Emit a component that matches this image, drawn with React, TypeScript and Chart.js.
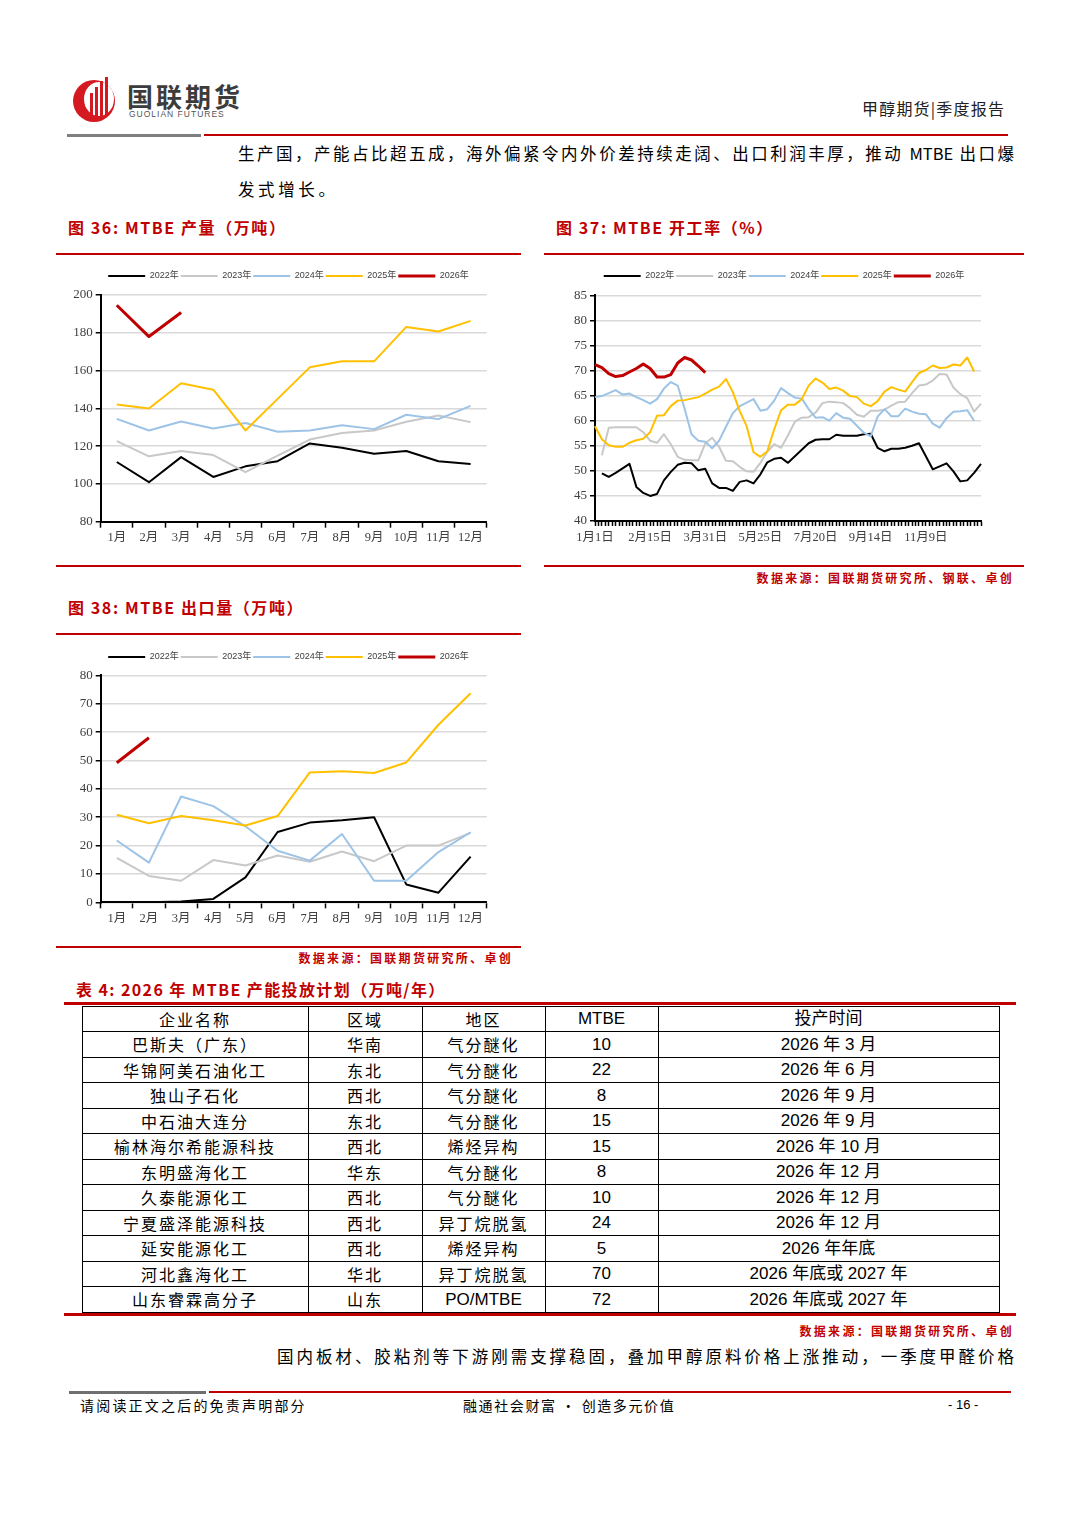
import React, { useEffect, useRef } from "react";
import { Chart, registerables } from "chart.js";

Chart.register(...registerables);

// ---------- shared series meta ----------
const seriesLabels = ["2022年", "2023年", "2024年", "2025年", "2026年"];
const seriesColors = ["#000000", "#c8c8c8", "#9dc3e6", "#ffc000", "#c00000"];
const seriesWidths = [2, 2, 2, 2, 3];

// ---------- Figure 36: MTBE production (10k t) ----------
const monthLabels = ["1月", "2月", "3月", "4月", "5月", "6月", "7月", "8月", "9月", "10月", "11月", "12月"];
const prod2022 = [111.6, 100.9, 114.2, 103.7, 109.3, 112.0, 121.4, 119.2, 116.0, 117.4, 112.0, 110.5];
const prod2023 = [122.7, 114.6, 117.4, 115.3, 106.2, 115.0, 123.5, 126.9, 128.3, 132.9, 136.2, 132.7];
const prod2024 = [134.4, 128.3, 133.0, 129.3, 132.2, 127.6, 128.3, 131.1, 129.0, 136.6, 134.3, 141.3];
const prod2025 = [142.0, 139.9, 153.3, 149.9, 128.3, 145.0, 161.7, 164.9, 164.9, 183.1, 180.7, 186.3];
const prod2026 = [194.6, 178.0, 190.7];

// ---------- Figure 37: MTBE operating rate (%) weekly ----------
const rateTickLabels = ["1月1日", "2月15日", "3月31日", "5月25日", "7月20日", "9月14日", "11月9日"];
const rate2022 = [null, 49.5, 48.8, 49.6, 50.5, 51.4, 46.8, 45.6, 45.0, 45.4, 48.1, 49.8, 51.2, 51.6, 51.5, 50.1, 50.4, 47.5, 46.6, 46.6, 46.0, 47.8, 48.1, 47.5, 49.3, 51.7, 52.4, 52.6, 51.6, 52.9, 54.2, 55.5, 56.2, 56.3, 56.3, 57.2, 57.0, 57.0, 57.0, 57.3, 57.4, 54.6, 53.9, 54.4, 54.4, 54.6, 55.0, 55.5, 52.9, 50.3, 50.9, 51.5, 49.9, 47.9, 48.1, 49.6, 51.4];
const rate2023 = [null, 53.1, 58.6, 58.7, 58.7, 58.7, 58.7, 57.7, 56.0, 55.6, 57.3, 55.3, 52.8, 52.2, 52.1, 52.1, 55.5, 56.6, 54.8, 52.0, 51.9, 50.8, 49.9, 49.8, 51.6, 53.8, 55.3, 54.6, 57.1, 59.8, 60.6, 60.7, 61.6, 63.5, 63.8, 63.7, 63.5, 62.5, 61.2, 60.8, 62.0, 62.0, 62.2, 63.0, 63.7, 63.8, 65.5, 67.0, 67.2, 68.0, 69.3, 69.2, 66.6, 65.3, 64.5, 61.8, 63.4];
const rate2024 = [64.7, 64.9, 65.5, 66.1, 65.2, 65.4, 64.7, 64.1, 63.4, 64.3, 66.4, 67.7, 67.0, 62.4, 57.3, 56.0, 55.8, 54.5, 56.0, 58.8, 61.5, 62.9, 63.6, 64.3, 62.0, 62.3, 64.0, 66.5, 65.5, 64.6, 64.4, 62.3, 60.6, 60.7, 60.0, 61.5, 60.6, 60.4, 59.0, 57.6, 56.9, 60.8, 62.3, 60.9, 60.9, 62.4, 61.8, 61.4, 61.3, 59.4, 58.6, 60.5, 61.8, 61.9, 62.1, 60.0, null];
const rate2025 = [58.9, 56.3, 55.1, 54.8, 54.8, 55.6, 56.1, 56.4, 57.7, 61.0, 61.1, 62.9, 64.0, 64.1, 64.4, 64.7, 65.4, 66.2, 66.8, 68.3, 65.7, 61.9, 58.9, 53.7, 52.8, 53.9, 58.3, 62.1, 63.2, 63.2, 64.3, 67.0, 68.4, 67.6, 66.3, 66.6, 66.0, 64.9, 64.7, 63.4, 62.9, 63.9, 65.8, 66.7, 66.2, 65.8, 67.7, 69.5, 70.1, 71.0, 70.5, 70.6, 71.2, 71.0, 72.6, 69.8, null];
const rate2026 = [71.2, 70.6, 69.4, 68.8, 69.0, 69.7, 70.4, 71.3, 70.4, 68.7, 68.7, 69.2, 71.5, 72.6, 72.1, 70.9, 69.6];

// ---------- Figure 38: MTBE exports (10k t) ----------
const exp2022 = [null, 0, 0.3, 1.2, 8.8, 24.8, 28.1, 28.9, 30.0, 6.3, 3.4, 16.1];
const exp2023 = [15.7, 9.3, 7.6, 14.9, 13.0, 16.5, 14.3, 17.9, 14.5, 20.0, 20.0, 24.5];
const exp2024 = [21.8, 14.0, 37.3, 33.9, 26.8, 18.2, 14.7, 24.1, 7.6, 7.6, 17.7, 24.7];
const exp2025 = [30.9, 27.9, 30.4, 28.9, 27.1, 30.4, 45.8, 46.2, 45.6, 49.3, 62.6, 73.7];
const exp2026 = [49.2, 58.0];

// ---------- Table 4 ----------
const tableHeader = ["企业名称", "区域", "地区", "MTBE", "投产时间"];
const companies = ["巴斯夫（广东）", "华锦阿美石油化工", "独山子石化", "中石油大连分", "榆林海尔希能源科技", "东明盛海化工", "久泰能源化工", "宁夏盛泽能源科技", "延安能源化工", "河北鑫海化工", "山东睿霖高分子"];
const regions = ["华南", "东北", "西北", "东北", "西北", "华东", "西北", "西北", "西北", "华北", "山东"];
const processes = ["气分醚化", "气分醚化", "气分醚化", "气分醚化", "烯烃异构", "气分醚化", "气分醚化", "异丁烷脱氢", "烯烃异构", "异丁烷脱氢", "PO/MTBE"];
const capacities = [10, 22, 8, 15, 15, 8, 10, 24, 5, 70, 72];
const startTimes = ["2026 年 3 月", "2026 年 6 月", "2026 年 9 月", "2026 年 9 月", "2026 年 10 月", "2026 年 12 月", "2026 年 12 月", "2026 年 12 月", "2026 年年底", "2026 年底或 2027 年", "2026 年底或 2027 年"];

const CJK = '"Noto Sans CJK SC", sans-serif';
const TICK_FONT = '"Liberation Serif", "Noto Sans CJK SC", serif';
const LEGEND_FONT = '"Liberation Sans", "Noto Sans CJK SC", sans-serif';
const NARROW = '"Liberation Sans Narrow", "Arial Narrow", "Liberation Sans", "Noto Sans CJK SC", sans-serif';
const RED = "#c00000";

type ChartOpts = {
  labels: string[];
  series: (number | null)[][];
  yMin: number;
  yMax: number;
  yStep: number;
  padRight: number;
  padTop: number;
  legendExtra: number;
  yAxisWidth: number;
  xAxisHeight: number;
  offset: boolean;
  xTickLen: number;
  xTickPad: number;
  spanGaps: boolean;
};

function buildConfig(o: ChartOpts): any {
  const legendTweak = {
    id: "legendTweak",
    beforeInit(chart: any) {
      const lg = chart.legend;
      if (!lg) return;
      const orig = lg.fit;
      lg.fit = function () {
        orig.call(this);
        this.height += o.legendExtra;
      };
    },
    afterLayout(chart: any) {
      const lg = chart.legend;
      if (!lg) return;
      const dx = chart.width / 2 - (lg.left + lg.right) / 2;
      lg.left += dx;
      lg.right += dx;
    },
  };
  return {
    type: "line",
    data: {
      labels: o.labels,
      datasets: o.series.map((vals, i) => ({
        label: seriesLabels[i],
        data: vals,
        borderColor: seriesColors[i],
        backgroundColor: seriesColors[i],
        borderWidth: seriesWidths[i],
        pointBorderWidth: seriesWidths[i],
        pointRadius: 0,
        pointHoverRadius: 0,
        pointStyle: "line",
        tension: 0,
        spanGaps: o.spanGaps,
        order: seriesLabels.length - i,
        borderJoinStyle: "round",
      })),
    },
    options: {
      responsive: false,
      animation: false,
      events: [],
      layout: { padding: { left: 0, right: o.padRight, top: o.padTop, bottom: 0 } },
      plugins: {
        legend: {
          display: true,
          position: "top",
          labels: {
            usePointStyle: true,
            pointStyleWidth: 37,
            padding: 2,
            color: "#404040",
            font: { family: LEGEND_FONT, size: 9 },
            sort: (a: any, b: any) => a.datasetIndex - b.datasetIndex,
          },
        },
        tooltip: { enabled: false },
      },
      scales: {
        x: {
          type: "category",
          offset: o.offset,
          grid: {
            display: true,
            drawOnChartArea: false,
            drawTicks: true,
            tickLength: o.xTickLen,
            tickColor: "#000",
            tickWidth: 1.5,
            offset: o.offset,
          },
          border: { display: true, color: "#000", width: 2 },
          ticks: {
            autoSkip: false,
            maxRotation: 0,
            minRotation: 0,
            padding: o.xTickPad,
            color: "#404040",
            font: { family: TICK_FONT, size: 12.5 },
          },
          afterFit: (s: any) => {
            s.height = o.xAxisHeight;
          },
        },
        y: {
          min: o.yMin,
          max: o.yMax,
          ticks: {
            stepSize: o.yStep,
            padding: 3,
            color: "#404040",
            font: { family: TICK_FONT, size: 13 },
          },
          grid: {
            color: "#d9d9d9",
            lineWidth: 1.5,
            tickColor: "#000",
            tickLength: 5,
            tickWidth: 1.5,
          },
          border: { display: true, color: "#000", width: 2 },
          afterFit: (s: any) => {
            s.width = o.yAxisWidth;
          },
        },
      },
    },
    plugins: [legendTweak],
  };
}

// weekly chart uses half-week slots so the axis gets the dense tick comb of the original
const RATE_SLOTS = 113;
const rateCategories = Array.from({ length: RATE_SLOTS }, (_, j) =>
  j % 16 === 0 && rateTickLabels[j / 16] !== undefined ? rateTickLabels[j / 16] : ""
);
const spread = (vals: (number | null)[]) =>
  Array.from({ length: RATE_SLOTS }, (_, j) => (j % 2 === 0 && vals[j / 2] !== undefined ? vals[j / 2] : null));

function ChartBox(props: { left: number; top: number; width: number; height: number; make: () => any }) {
  const ref = useRef<HTMLCanvasElement>(null);
  useEffect(() => {
    if (!ref.current) return;
    const c = new Chart(ref.current, props.make());
    return () => c.destroy();
  }, []);
  return (
    <canvas
      ref={ref}
      width={props.width}
      height={props.height}
      style={{ position: "absolute", left: props.left, top: props.top, width: props.width, height: props.height }}
    />
  );
}

function Txt(props: {
  x: number;
  y: number;
  size: number;
  children: React.ReactNode;
  color?: string;
  bold?: boolean;
  ls?: number;
  family?: string;
  right?: boolean;
  width?: number;
  justify?: boolean;
}) {
  const h = Math.round(props.size * 1.4);
  const style: React.CSSProperties = {
    position: "absolute",
    top: props.y - h / 2,
    height: h,
    lineHeight: `${h}px`,
    fontSize: props.size,
    color: props.color || "#000",
    fontWeight: props.bold ? 700 : 400,
    letterSpacing: props.ls ?? 0,
    fontFamily: props.family || CJK,
    whiteSpace: props.justify ? "normal" : "nowrap",
  };
  if (props.right) {
    style.right = 1080 - props.x;
  } else {
    style.left = props.x;
  }
  if (props.width) style.width = props.width;
  if (props.justify) {
    style.textAlign = "justify";
    (style as any).textAlignLast = "justify";
  }
  return <div style={style}>{props.children}</div>;
}

function Line(props: { x1: number; x2: number; y: number; h: number; color: string }) {
  return (
    <div
      style={{
        position: "absolute",
        left: props.x1,
        top: props.y - props.h / 2,
        width: props.x2 - props.x1,
        height: props.h,
        background: props.color,
      }}
    />
  );
}

function Logo() {
  return (
    <svg width="48" height="50" viewBox="0 0 48 50" style={{ position: "absolute", left: 71, top: 75 }}>
      <circle cx="23" cy="26" r="21" fill="#d51920" />
      <ellipse cx="28" cy="24" rx="15" ry="17" fill="#fff" />
      <rect x="19" y="18" width="3" height="28" fill="#d51920" />
      <rect x="24" y="12" width="3" height="34" fill="#d51920" />
      <rect x="29" y="6" width="3" height="38" fill="#d51920" />
      <rect x="34" y="2" width="3" height="38" fill="#d51920" />
    </svg>
  );
}

function DataTable() {
  const colX = [82, 308, 422, 545, 658, 999];
  const top = 1006;
  const rowH = 25.5;
  const rows = [tableHeader, ...companies.map((c, i) => [c, regions[i], processes[i], String(capacities[i]), startTimes[i]])];
  const bottom = top + rows.length * rowH;
  const els: React.ReactNode[] = [];
  for (let r = 0; r <= rows.length; r++) {
    els.push(
      <div key={"h" + r} style={{ position: "absolute", left: colX[0], top: top + r * rowH - 0.5, width: colX[5] - colX[0] + 1, height: 1, background: "#000" }} />
    );
  }
  colX.forEach((x, i) =>
    els.push(<div key={"v" + i} style={{ position: "absolute", left: x - 0.5, top, width: 1, height: bottom - top, background: "#000" }} />)
  );
  rows.forEach((row, r) =>
    row.forEach((v, c) => {
      const numeric = c === 3 || c === 4 || v.indexOf("PO") === 0;
      els.push(
        <div
          key={r + "-" + c}
          style={{
            position: "absolute",
            left: colX[c],
            width: colX[c + 1] - colX[c],
            top: top + r * rowH,
            height: rowH,
            display: "flex",
            alignItems: "center",
            justifyContent: "center",
            whiteSpace: "nowrap",
            fontFamily: numeric ? NARROW : CJK,
            fontSize: numeric ? 17 : 16,
            letterSpacing: numeric ? 0 : 2,
            lineHeight: 1,
            color: "#000",
          }}
        >
          {v}
        </div>
      );
    })
  );
  return <>{els}</>;
}

export default function App() {
  return (
    <div
      style={{
        position: "absolute",
        left: 0,
        top: 0,
        width: 1080,
        height: 1528,
        background: "#fff",
        overflow: "hidden",
        fontFamily: CJK,
      }}
    >
      {/* header */}
      <Logo />
      <Txt x={127} y={96} size={26} bold color="#3c3c3c" ls={3}>
        国联期货
      </Txt>
      <Txt x={129} y={114} size={8.5} color="#555" ls={1} family={LEGEND_FONT}>
        GUOLIAN FUTURES
      </Txt>
      <Txt x={862} y={108} size={16} ls={1.2} color="#222">
        甲醇期货|季度报告
      </Txt>
      <Line x1={67} x2={201} y={135} h={3} color="#7f7f7f" />
      <Line x1={204} x2={1008} y={135} h={2} color={RED} />

      {/* body text */}
      <Txt x={238} y={153} size={16.5} width={776} justify>
        生产国，产能占比超五成，海外偏紧令内外价差持续走阔、出口利润丰厚，推动 MTBE 出口爆
      </Txt>
      <Txt x={238} y={189} size={16.5} ls={3.6}>
        发式增长。
      </Txt>

      {/* figure 36 */}
      <Txt x={68} y={227} size={16} bold color={RED} ls={1.6}>
        图 36: MTBE 产量（万吨）
      </Txt>
      <Line x1={56} x2={521} y={254} h={2} color={RED} />
      <ChartBox
        left={56}
        top={260}
        width={465}
        height={300}
        make={() =>
          buildConfig({
            labels: monthLabels,
            series: [prod2022, prod2023, prod2024, prod2025, prod2026],
            yMin: 80,
            yMax: 200,
            yStep: 20,
            padRight: 34.3,
            padTop: 9.5,
            legendExtra: 4.5,
            yAxisWidth: 44.7,
            xAxisHeight: 38.3,
            offset: true,
            xTickLen: 6,
            xTickPad: 3,
            spanGaps: false,
          })
        }
      />
      <Line x1={56} x2={521} y={566} h={2} color={RED} />

      {/* figure 37 */}
      <Txt x={556} y={227} size={16} bold color={RED} ls={1.6}>
        图 37: MTBE 开工率（%）
      </Txt>
      <Line x1={544} x2={1024} y={254} h={2} color={RED} />
      <ChartBox
        left={544}
        top={260}
        width={480}
        height={300}
        make={() =>
          buildConfig({
            labels: rateCategories,
            series: [spread(rate2022), spread(rate2023), spread(rate2024), spread(rate2025), spread(rate2026)],
            yMin: 40,
            yMax: 85,
            yStep: 5,
            padRight: 43,
            padTop: 9.5,
            legendExtra: 4.8,
            yAxisWidth: 51,
            xAxisHeight: 39,
            offset: false,
            xTickLen: 5,
            xTickPad: 4,
            spanGaps: true,
          })
        }
      />
      <Line x1={544} x2={1024} y={566} h={2} color={RED} />
      <Txt x={1014} y={577} size={12} bold color={RED} ls={2.3} right>
        数据来源：国联期货研究所、钢联、卓创
      </Txt>

      {/* figure 38 */}
      <Txt x={68} y={607} size={16} bold color={RED} ls={1.6}>
        图 38: MTBE 出口量（万吨）
      </Txt>
      <Line x1={56} x2={521} y={634} h={2} color={RED} />
      <ChartBox
        left={56}
        top={640}
        width={465}
        height={300}
        make={() =>
          buildConfig({
            labels: monthLabels,
            series: [exp2022, exp2023, exp2024, exp2025, exp2026],
            yMin: 0,
            yMax: 80,
            yStep: 10,
            padRight: 34.3,
            padTop: 10.5,
            legendExtra: 3.9,
            yAxisWidth: 44.7,
            xAxisHeight: 37.7,
            offset: true,
            xTickLen: 6,
            xTickPad: 3,
            spanGaps: false,
          })
        }
      />
      <Line x1={56} x2={521} y={947} h={2} color={RED} />
      <Txt x={513} y={957} size={12} bold color={RED} ls={2.3} right>
        数据来源：国联期货研究所、卓创
      </Txt>

      {/* table 4 */}
      <Txt x={76} y={989} size={16} bold color={RED} ls={1.4}>
        表 4: 2026 年 MTBE 产能投放计划（万吨/年）
      </Txt>
      <Line x1={64} x2={1016} y={1003} h={3} color={RED} />
      <DataTable />
      <Line x1={64} x2={1016} y={1314} h={3} color={RED} />
      <Txt x={1014} y={1330} size={12} bold color={RED} ls={2.3} right>
        数据来源：国联期货研究所、卓创
      </Txt>

      <Txt x={277} y={1356} size={16.5} width={737} justify>
        国内板材、胶粘剂等下游刚需支撑稳固，叠加甲醇原料价格上涨推动，一季度甲醛价格
      </Txt>

      {/* footer */}
      <Line x1={69} x2={206} y={1392} h={3} color="#6f6f6f" />
      <Line x1={209} x2={1011} y={1392} h={2} color={RED} />
      <Txt x={80} y={1405} size={14} ls={2.2}>
        请阅读正文之后的免责声明部分
      </Txt>
      <Txt x={463} y={1405} size={14} ls={1.6}>
        融通社会财富 · 创造多元价值
      </Txt>
      <Txt x={948} y={1405} size={13} family={LEGEND_FONT}>
        - 16 -
      </Txt>
    </div>
  );
}
